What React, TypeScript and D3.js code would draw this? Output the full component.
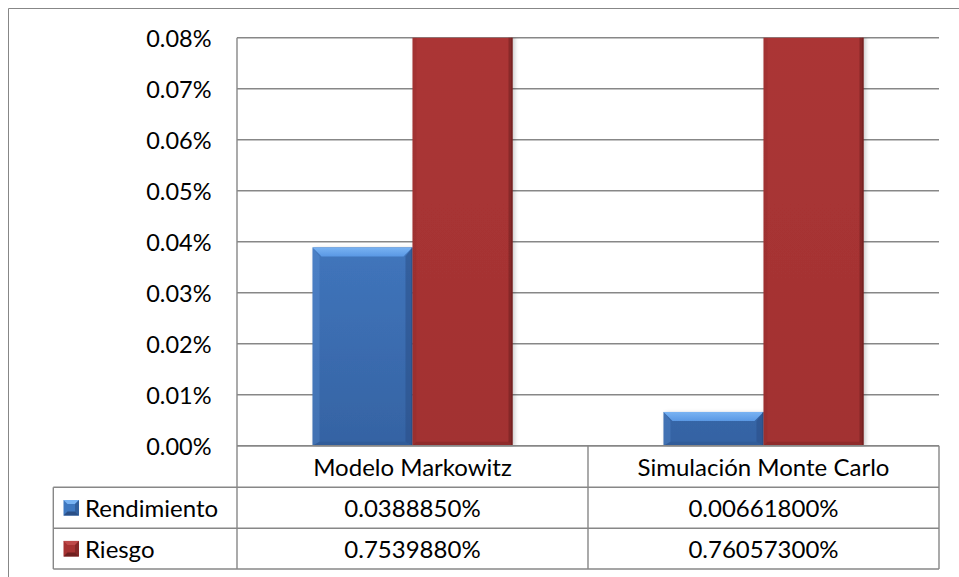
import React from "react";
import * as d3 from "d3";

// Chart data
const categories = ["Modelo Markowitz", "Simulación Monte Carlo"];
const seriesNames = ["Rendimiento", "Riesgo"];
const rendimiento = [0.038885, 0.006618];
const riesgo = [0.753988, 0.760573];
// decimals shown in the data table for each category column
const tableDecimals = [7, 8];
const yTicks = [0, 0.01, 0.02, 0.03, 0.04, 0.05, 0.06, 0.07, 0.08];

const W = 959;
const H = 577;
const FONT = "Lato, Carlito, Calibri, 'Open Sans', sans-serif";
const FS_AXIS = 23.5;
const FS_TABLE = 24;

const plot = { left: 237, right: 939, top: 37.7, bottom: 445.7 };
const tableRows = [445.7, 487.3, 528.3, 569];
const legendLeft = 53.3;
const gridColor = "#878787";

const palette = [
  { top: "#4c88d6", bottom: "#3563a3", light: "#79b3f3", lightEnd: "#5a98e4", dark: "#2a4f86", edge: "#26487a" },
  { top: "#ab3636", bottom: "#a23131", light: "#bf4a4a", lightEnd: "#b03b3b", dark: "#6e1f1f", edge: "#561717" },
];

const y = d3.scaleLinear().domain([0, 0.08]).range([plot.bottom, plot.top]);
const x0 = d3.scaleBand<string>().domain(categories).range([plot.left, plot.right]).paddingInner(0).paddingOuter(0);
const barW = x0.bandwidth() / (seriesNames.length + 1.51);
const x1 = d3
  .scaleBand<string>()
  .domain(seriesNames)
  .range([(x0.bandwidth() - barW * 2) / 2, (x0.bandwidth() + barW * 2) / 2])
  .padding(0);

const seriesValues = [rendimiento, riesgo];

function Bar({ x, w, v, si, id }: { x: number; w: number; v: number; si: number; id: string }) {
  const y0 = y(v);
  const y1 = y(0);
  const h = y1 - y0;
  const p = palette[si];
  const b = Math.min(9, h / 2, w / 2);
  const sb = si === 0 ? Math.min(7, w / 2) : 4;
  const xr = x + w;
  return (
    <g>
      <defs>
        <linearGradient id={`body-${id}`} x1="0" y1={plot.top} x2="0" y2={plot.bottom} gradientUnits="userSpaceOnUse">
          <stop offset="0" stopColor={p.top} />
          <stop offset="1" stopColor={p.bottom} />
        </linearGradient>
        <linearGradient id={`cham-${id}`} x1="0" y1="0" x2="0" y2="1">
          <stop offset="0" stopColor={p.light} />
          <stop offset="1" stopColor={p.lightEnd} />
        </linearGradient>
      </defs>
      <rect x={x} y={y0} width={w} height={h} fill={`url(#body-${id})`} filter="url(#barShadow)" />
      {/* top chamfer */}
      <polygon points={`${x},${y0} ${xr},${y0} ${xr - b},${y0 + b} ${x + b},${y0 + b}`} fill={`url(#cham-${id})`} />
      {/* left chamfer */}
      <polygon
        points={`${x},${y0} ${x + sb},${y0 + b} ${x + sb},${y1 - 4} ${x},${y1}`}
        fill={si === 0 ? p.light : p.dark}
        opacity={si === 0 ? 0.18 : 0.12}
      />
      {/* right chamfer */}
      <polygon points={`${xr},${y0} ${xr - sb},${y0 + b} ${xr - sb},${y1 - 4} ${xr},${y1}`} fill={p.dark} opacity={0.55} />
      <line x1={xr - 0.5} x2={xr - 0.5} y1={y0} y2={y1} stroke={p.edge} strokeWidth={1} opacity={0.6} />
      {/* bottom chamfer */}
      <polygon points={`${x},${y1} ${xr},${y1} ${xr - sb},${y1 - 4} ${x + sb},${y1 - 4}`} fill={p.dark} opacity={0.35} />
    </g>
  );
}

function LegendKey({ x, yc, si }: { x: number; yc: number; si: number }) {
  const p = palette[si];
  const s = 15.5;
  const t = yc - s / 2;
  const b = 4;
  return (
    <g>
      <rect x={x} y={t} width={s} height={s} fill={si === 0 ? "#3f78c0" : "#a63232"} />
      <polygon points={`${x},${t} ${x + s},${t} ${x + s - b},${t + b} ${x + b},${t + b}`} fill={p.light} />
      <polygon points={`${x},${t + s} ${x + s},${t + s} ${x + s - b},${t + s - b} ${x + b},${t + s - b}`} fill={p.dark} />
      <polygon points={`${x + s},${t} ${x + s},${t + s} ${x + s - b},${t + s - b} ${x + s - b},${t + b}`} fill={p.dark} opacity={0.6} />
    </g>
  );
}

export default function App() {
  const fmt = tableDecimals.map((d) => d3.format(`.${d}f`));
  return (
    <svg
      width={W}
      height={H}
      viewBox={`0 0 ${W} ${H}`}
      style={{ position: "absolute", left: 0, top: 0, background: "#fff" }}
      fontFamily={FONT}
    >
      <defs>
        <clipPath id="plotClip">
          <rect x={plot.left} y={plot.top} width={plot.right - plot.left + 20} height={plot.bottom - plot.top + 1} />
        </clipPath>
        <filter id="barShadow" x="-10%" y="-10%" width="130%" height="120%">
          <feDropShadow dx="2" dy="1" stdDeviation="2" floodColor="#000" floodOpacity="0.22" />
        </filter>
      </defs>

      {/* chart area frame */}
      <line x1={8.5} x2={W} y1={8.5} y2={8.5} stroke={gridColor} strokeWidth={1} />
      <line x1={8.5} x2={8.5} y1={8.5} y2={H} stroke={gridColor} strokeWidth={1} />

      {/* gridlines and value axis labels */}
      {yTicks.map((t) => (
        <g key={t}>
          <line x1={plot.left} x2={plot.right} y1={y(t)} y2={y(t)} stroke={gridColor} strokeWidth={1.4} />
          <text x={211.5} y={y(t)} textAnchor="end" dominantBaseline="central" fontSize={FS_AXIS} fill="#000">
            {d3.format(".2f")(t)}%
          </text>
        </g>
      ))}

      {/* bars */}
      <g clipPath="url(#plotClip)">
        {categories.map((c, ci) =>
          seriesNames.map((s, si) => (
            <Bar
              key={`${ci}-${si}`}
              id={`${ci}-${si}`}
              x={(x0(c) ?? 0) + (x1(s) ?? 0)}
              w={x1.bandwidth()}
              v={seriesValues[si][ci]}
              si={si}
            />
          ))
        )}
      </g>
      <line x1={plot.left} x2={plot.right} y1={plot.bottom} y2={plot.bottom} stroke={gridColor} strokeWidth={1.4} />

      {/* data table */}
      <g stroke={gridColor} strokeWidth={1.4}>
        <line x1={plot.left} x2={plot.left} y1={plot.top} y2={tableRows[3]} />
        <line x1={plot.right} x2={plot.right} y1={tableRows[0]} y2={tableRows[3]} />
        {categories.slice(1).map((c) => (
          <line key={c} x1={x0(c)} x2={x0(c)} y1={tableRows[0]} y2={tableRows[3]} />
        ))}
        {tableRows.slice(1).map((r) => (
          <line key={r} x1={legendLeft} x2={plot.right} y1={r} y2={r} />
        ))}
        <line x1={legendLeft} x2={legendLeft} y1={tableRows[1]} y2={tableRows[3]} />
      </g>

      {categories.map((c) => (
        <text
          key={c}
          x={(x0(c) ?? 0) + x0.bandwidth() / 2}
          y={(tableRows[0] + tableRows[1]) / 2}
          textAnchor="middle"
          dominantBaseline="central"
          fontSize={FS_TABLE}
        >
          {c}
        </text>
      ))}

      {seriesNames.map((s, si) => {
        const yc = (tableRows[si + 1] + tableRows[si + 2]) / 2;
        return (
          <g key={s}>
            <LegendKey x={63.5} yc={yc} si={si} />
            <text x={85} y={yc} dominantBaseline="central" fontSize={FS_TABLE}>
              {s}
            </text>
            {categories.map((c, ci) => (
              <text
                key={c}
                x={(x0(c) ?? 0) + x0.bandwidth() / 2}
                y={yc}
                textAnchor="middle"
                dominantBaseline="central"
                fontSize={FS_TABLE}
              >
                {fmt[ci](seriesValues[si][ci])}%
              </text>
            ))}
          </g>
        );
      })}
    </svg>
  );
}
